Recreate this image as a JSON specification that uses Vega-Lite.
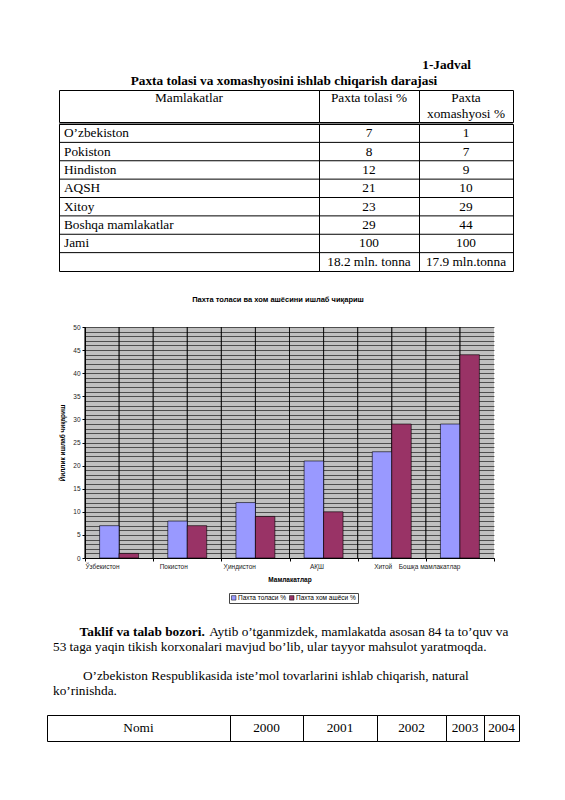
{
  "$schema": "https://vega.github.io/schema/vega-lite/v6.json",
  "background": "white",
  "padding": {"left": 0, "top": 57, "right": 0, "bottom": 0},
  "spacing": 0,
  "resolve": {"scale": {"color": "independent"}, "legend": {"color": "independent"}},
  "config": {
    "view": {"stroke": null},
    "font": "Liberation Serif",
    "concat": {"spacing": 0},
    "text": {"font": "Liberation Serif", "fontSize": 13.3, "color": "black"},
    "title": {"font": "Liberation Serif", "fontSize": 13.3, "fontWeight": "bold", "color": "black", "frame": "group", "baseline": "alphabetic"}
  },
  "datasets": {
    "hdr": [
      {"col": 1, "line": 1, "text": "Mamlakatlar"},
      {"col": 2, "line": 1, "text": "Paxta tolasi %"},
      {"col": 3, "line": 1, "text": "Paxta"},
      {"col": 3, "line": 2, "text": "xomashyosi %"}
    ],
    "tbl": [
      {"country": "O’zbekiston", "tolasi": "7", "xom": "1"},
      {"country": "Pokiston", "tolasi": "8", "xom": "7"},
      {"country": "Hindiston", "tolasi": "12", "xom": "9"},
      {"country": "AQSH", "tolasi": "21", "xom": "10"},
      {"country": "Xitoy", "tolasi": "23", "xom": "29"},
      {"country": "Boshqa mamlakatlar", "tolasi": "29", "xom": "44"},
      {"country": "Jami", "tolasi": "100", "xom": "100"},
      {"country": " ", "tolasi": "18.2 mln. tonna", "xom": "17.9 mln.tonna"}
    ],
    "prod": [
      {"country": "Ўзбекистон", "series": "Пахта толаси %", "value": 7},
      {"country": "Ўзбекистон", "series": "Пахта хом ашёси %", "value": 1},
      {"country": "Покистон", "series": "Пахта толаси %", "value": 8},
      {"country": "Покистон", "series": "Пахта хом ашёси %", "value": 7},
      {"country": "Ҳиндистон", "series": "Пахта толаси %", "value": 12},
      {"country": "Ҳиндистон", "series": "Пахта хом ашёси %", "value": 9},
      {"country": "АҚШ", "series": "Пахта толаси %", "value": 21},
      {"country": "АҚШ", "series": "Пахта хом ашёси %", "value": 10},
      {"country": "Хитой", "series": "Пахта толаси %", "value": 23},
      {"country": "Хитой", "series": "Пахта хом ашёси %", "value": 29},
      {"country": "Бошқа мамлакатлар", "series": "Пахта толаси %", "value": 29},
      {"country": "Бошқа мамлакатлар", "series": "Пахта хом ашёси %", "value": 44}
    ],
    "para": [
      {"line": 1, "role": "lead", "text": "\u200b\u00a0\u00a0\u00a0\u00a0\u00a0\u00a0\u00a0\u00a0Taklif va talab bozori."},
      {"line": 1, "role": "body", "text": "\u200b\u00a0\u00a0\u00a0\u00a0\u00a0\u00a0\u00a0\u00a0\u00a0\u00a0\u00a0\u00a0\u00a0\u00a0\u00a0\u00a0\u00a0\u00a0\u00a0\u00a0\u00a0\u00a0\u00a0\u00a0\u00a0\u00a0\u00a0\u00a0\u00a0\u00a0\u00a0\u00a0\u00a0\u00a0\u00a0\u00a0\u00a0\u00a0\u00a0\u00a0\u00a0\u00a0\u00a0\u00a0\u00a0\u00a0\u00a0Aytib o’tganmizdek, mamlakatda asosan 84 ta to’quv va"},
      {"line": 2, "role": "body", "text": "53 taga yaqin tikish korxonalari mavjud bo’lib, ular tayyor mahsulot yaratmoqda."},
      {"line": 4, "role": "body", "text": "\u200b\u00a0\u00a0\u00a0\u00a0\u00a0\u00a0\u00a0\u00a0\u00a0O’zbekiston Respublikasida iste’mol tovarlarini ishlab chiqarish, natural"},
      {"line": 5, "role": "body", "text": "ko’rinishda."}
    ],
    "yrs": [
      {"label": "Nomi"}, {"label": "2000"}, {"label": "2001"}, {"label": "2002"}, {"label": "2003"}, {"label": "2004"}
    ]
  },
  "vconcat": [
    {
      "spacing": 0,
      "hconcat": [
        {"data": {"values": [{}]}, "mark": {"type": "text"}, "width": 58, "height": 1},
        {
          "spacing": 0,
          "vconcat": [
            {
              "spacing": 0,
              "bounds": "flush",
              "hconcat": [
                {"width": 260, "height": 32, "view": {"stroke": "black", "strokeWidth": 1}, "data": {"name": "hdr"},
                 "title": {"text": "Paxta tolasi va xomashyosini ishlab chiqarish darajasi", "anchor": "middle", "dx": 95, "offset": 2.3},
                 "transform": [{"filter": "datum.col == 1"}],
                 "mark": {"type": "text", "baseline": "middle"},
                 "encoding": {"text": {"field": "text"}, "y": {"field": "line", "type": "ordinal", "scale": {"type": "band", "domain": [1, 2], "paddingInner": 0, "paddingOuter": 0}, "axis": null}}},
                {"width": 100, "height": 32, "view": {"stroke": "black", "strokeWidth": 1}, "data": {"name": "hdr"},
                 "transform": [{"filter": "datum.col == 2"}],
                 "mark": {"type": "text", "baseline": "middle"},
                 "encoding": {"text": {"field": "text"}, "y": {"field": "line", "type": "ordinal", "scale": {"type": "band", "domain": [1, 2], "paddingInner": 0, "paddingOuter": 0}, "axis": null}}},
                {"width": 94, "height": 32, "view": {"stroke": "black", "strokeWidth": 1}, "data": {"name": "hdr"},
                 "title": {"text": "1-Jadval", "anchor": "end", "dx": -42, "offset": 18.3},
                 "transform": [{"filter": "datum.col == 3"}],
                 "mark": {"type": "text", "baseline": "middle"},
                 "encoding": {"text": {"field": "text"}, "y": {"field": "line", "type": "ordinal", "scale": {"type": "band", "domain": [1, 2], "paddingInner": 0, "paddingOuter": 0}, "axis": null}}}
              ]
            },
            {
              "spacing": 0,
              "bounds": "flush",
              "hconcat": [
                {"width": 260, "height": 147, "view": {"stroke": "black", "strokeWidth": 1}, "data": {"name": "tbl"},
                 "layer": [
                   {"mark": {"type": "rule", "color": "black", "strokeWidth": 1},
                    "encoding": {"y": {"field": "country", "type": "nominal", "sort": null, "bandPosition": 0, "scale": {"type": "band", "paddingInner": 0, "paddingOuter": 0}, "axis": null}}},
                   {"mark": {"type": "text", "baseline": "middle", "align": "left", "dx": 5},
                    "encoding": {"text": {"field": "country"},
                      "x": {"datum": 0, "type": "quantitative", "scale": {"domain": [0, 1]}, "axis": null},
                      "y": {"field": "country", "type": "nominal", "sort": null, "scale": {"type": "band", "paddingInner": 0, "paddingOuter": 0}, "axis": null}}}
                 ]},
                {"width": 100, "height": 147, "view": {"stroke": "black", "strokeWidth": 1}, "data": {"name": "tbl"},
                 "layer": [
                   {"mark": {"type": "rule", "color": "black", "strokeWidth": 1},
                    "encoding": {"y": {"field": "country", "type": "nominal", "sort": null, "bandPosition": 0, "scale": {"type": "band", "paddingInner": 0, "paddingOuter": 0}, "axis": null}}},
                   {"mark": {"type": "text", "baseline": "middle"},
                    "encoding": {"text": {"field": "tolasi"},
                      "y": {"field": "country", "type": "nominal", "sort": null, "scale": {"type": "band", "paddingInner": 0, "paddingOuter": 0}, "axis": null}}}
                 ]},
                {"width": 94, "height": 147, "view": {"stroke": "black", "strokeWidth": 1}, "data": {"name": "tbl"},
                 "layer": [
                   {"mark": {"type": "rule", "color": "black", "strokeWidth": 1},
                    "encoding": {"y": {"field": "country", "type": "nominal", "sort": null, "bandPosition": 0, "scale": {"type": "band", "paddingInner": 0, "paddingOuter": 0}, "axis": null}}},
                   {"mark": {"type": "text", "baseline": "middle"},
                    "encoding": {"text": {"field": "xom"},
                      "y": {"field": "country", "type": "nominal", "sort": null, "scale": {"type": "band", "paddingInner": 0, "paddingOuter": 0}, "axis": null}}}
                 ]}
              ]
            }
          ]
        }
      ]
    },
    {"data": {"values": [{}]}, "mark": {"type": "text"}, "width": 1, "height": 23},
    {
      "spacing": 0,
      "resolve": {"scale": {"color": "independent"}, "legend": {"color": "independent"}},
      "hconcat": [
        {"data": {"values": [{}]}, "mark": {"type": "text"}, "width": 58.75, "height": 1},
        {
          "width": 409,
          "height": 231,
          "view": {"fill": "#C0C0C0", "stroke": null},
          "title": {"text": "Пахта толаси ва хом ашёсини ишлаб чиқариш", "font": "Liberation Sans", "fontSize": 7.5, "fontWeight": "bold", "anchor": "middle", "dx": -11.5, "offset": 21},
          "data": {"name": "prod"},
          "layer": [
            {"mark": {"type": "rule", "color": "black", "strokeWidth": 0.7},
             "encoding": {"x": {"field": "country", "type": "nominal", "sort": null, "bandPosition": 0, "title": "Мамлакатлар", "scale": {"type": "band", "paddingInner": 0, "paddingOuter": 0}}}},
            {"mark": {"type": "rule", "color": "black", "strokeWidth": 0.7},
             "encoding": {"x": {"field": "country", "type": "nominal", "sort": null, "bandPosition": 0.5, "title": "Мамлакатлар", "scale": {"type": "band", "paddingInner": 0, "paddingOuter": 0}}}},
            {"mark": {"type": "bar", "stroke": "black", "strokeWidth": 0.6},
             "encoding": {
               "x": {"field": "country", "type": "nominal", "sort": null, "title": "Мамлакатлар",
                 "scale": {"type": "band", "paddingInner": 0, "paddingOuter": 0},
                 "axis": {"labelAngle": 0, "labelFont": "Liberation Sans", "labelFontSize": 6.5, "labelColor": "#222", "tickBand": "extent", "tickSize": 3, "tickColor": "black", "domainColor": "black", "labelPadding": 5, "titleFont": "Liberation Sans", "titleFontSize": 6.5, "titleFontWeight": "bold", "titleColor": "black", "titlePadding": 7}},
               "xOffset": {"field": "series", "type": "nominal", "sort": null, "scale": {"paddingInner": 0, "paddingOuter": 0.75}},
               "y": {"field": "value", "type": "quantitative", "title": "Йиллик ишлаб чиқариш",
                 "scale": {"domain": [0, 50], "nice": false},
                 "axis": {"values": [0,1,2,3,4,5,6,7,8,9,10,11,12,13,14,15,16,17,18,19,20,21,22,23,24,25,26,27,28,29,30,31,32,33,34,35,36,37,38,39,40,41,42,43,44,45,46,47,48,49,50],
                   "grid": true, "gridColor": "black", "gridWidth": 0.6, "gridOpacity": 1,
                   "labelExpr": "datum.value % 5 == 0 ? datum.label : ''", "labelOverlap": false,
                   "tickOpacity": {"condition": {"test": "datum.value % 5 == 0", "value": 1}, "value": 0},
                   "tickSize": 3, "tickColor": "black", "domainColor": "black",
                   "labelFont": "Liberation Sans", "labelFontSize": 6.5, "labelColor": "#222", "labelPadding": 2,
                   "titleFont": "Liberation Sans", "titleFontSize": 6.5, "titleFontWeight": "bold", "titleColor": "black", "titlePadding": 7.5}},
               "color": {"field": "series", "type": "nominal", "sort": null,
                 "scale": {"domain": ["Пахта толаси %", "Пахта хом ашёси %"], "range": ["#9999FF", "#993366"]},
                 "legend": {"orient": "none", "legendX": 144, "legendY": 266, "direction": "horizontal", "title": null, "labelFont": "Liberation Sans", "labelFontSize": 6.5, "labelColor": "black", "symbolType": "square", "symbolSize": 20, "symbolStrokeColor": "black", "symbolStrokeWidth": 0.5, "strokeColor": "#444", "padding": 1.5, "columnPadding": 2, "labelOffset": 1}}
             }}
          ]
        }
      ]
    },
    {"data": {"values": [{}]}, "mark": {"type": "text"}, "width": 1, "height": 14},
    {
      "spacing": 0,
      "hconcat": [
        {"data": {"values": [{}]}, "mark": {"type": "text"}, "width": 53, "height": 1},
        {
          "width": 470, "height": 73,
          "data": {"name": "para"},
          "encoding": {
            "x": {"datum": 0, "type": "quantitative", "scale": {"domain": [0, 1]}, "axis": null},
            "y": {"field": "line", "type": "ordinal", "scale": {"type": "band", "domain": [1, 2, 3, 4, 5], "paddingInner": 0, "paddingOuter": 0}, "axis": null},
            "text": {"field": "text"}
          },
          "layer": [
            {"transform": [{"filter": "datum.role == 'lead'"}], "mark": {"type": "text", "align": "left", "baseline": "middle", "fontWeight": "bold"}},
            {"transform": [{"filter": "datum.role != 'lead'"}], "mark": {"type": "text", "align": "left", "baseline": "middle"}}
          ]
        }
      ]
    },
    {"data": {"values": [{}]}, "mark": {"type": "text", "fontSize": 1}, "width": 1, "height": 10},
    {
      "spacing": 0,
      "bounds": "flush",
      "hconcat": [
        {"data": {"values": [{}]}, "mark": {"type": "text"}, "width": 47, "height": 1},
        {"width": 183, "height": 26, "view": {"stroke": "black", "strokeWidth": 1}, "data": {"name": "yrs"}, "transform": [{"filter": "datum.label == 'Nomi'"}], "mark": {"type": "text", "baseline": "middle"}, "encoding": {"text": {"field": "label"}}},
        {"width": 73, "height": 26, "view": {"stroke": "black", "strokeWidth": 1}, "data": {"name": "yrs"}, "transform": [{"filter": "datum.label == '2000'"}], "mark": {"type": "text", "baseline": "middle"}, "encoding": {"text": {"field": "label"}}},
        {"width": 74, "height": 26, "view": {"stroke": "black", "strokeWidth": 1}, "data": {"name": "yrs"}, "transform": [{"filter": "datum.label == '2001'"}], "mark": {"type": "text", "baseline": "middle"}, "encoding": {"text": {"field": "label"}}},
        {"width": 69, "height": 26, "view": {"stroke": "black", "strokeWidth": 1}, "data": {"name": "yrs"}, "transform": [{"filter": "datum.label == '2002'"}], "mark": {"type": "text", "baseline": "middle"}, "encoding": {"text": {"field": "label"}}},
        {"width": 38, "height": 26, "view": {"stroke": "black", "strokeWidth": 1}, "data": {"name": "yrs"}, "transform": [{"filter": "datum.label == '2003'"}], "mark": {"type": "text", "baseline": "middle"}, "encoding": {"text": {"field": "label"}}},
        {"width": 35, "height": 26, "view": {"stroke": "black", "strokeWidth": 1}, "data": {"name": "yrs"}, "transform": [{"filter": "datum.label == '2004'"}], "mark": {"type": "text", "baseline": "middle"}, "encoding": {"text": {"field": "label"}}}
      ]
    }
  ]
}
